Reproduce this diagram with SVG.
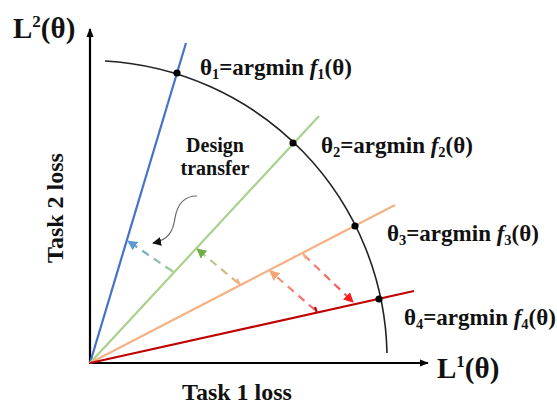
<svg xmlns="http://www.w3.org/2000/svg" width="557" height="405" viewBox="0 0 557 405">
<style>
text{font-family:'Liberation Serif','Times New Roman',serif;font-weight:bold;fill:#111}
.lbl{font-size:23px}
.sub{font-size:14.5px}
.dash{fill:none;stroke-width:2.2;stroke-dasharray:8 6}
</style>
<defs>
<marker id="ah" viewBox="0 0 10 10" refX="9" refY="5" markerWidth="9" markerHeight="9" markerUnits="userSpaceOnUse" orient="auto"><path d="M0,0 L10,5 L0,10 Z" fill="#111"/></marker>
<marker id="mb" viewBox="0 0 10 10" refX="9" refY="5" markerWidth="10" markerHeight="10" markerUnits="userSpaceOnUse" orient="auto"><path d="M0,0 L10,5 L0,10 Z" fill="#5B9BD5"/></marker>
<marker id="mg" viewBox="0 0 10 10" refX="9" refY="5" markerWidth="10" markerHeight="10" markerUnits="userSpaceOnUse" orient="auto"><path d="M0,0 L10,5 L0,10 Z" fill="#70AD47"/></marker>
<marker id="mo" viewBox="0 0 10 10" refX="9" refY="5" markerWidth="10" markerHeight="10" markerUnits="userSpaceOnUse" orient="auto"><path d="M0,0 L10,5 L0,10 Z" fill="#F4A57A"/></marker>
<marker id="mr" viewBox="0 0 10 10" refX="9" refY="5" markerWidth="10" markerHeight="10" markerUnits="userSpaceOnUse" orient="auto"><path d="M0,0 L10,5 L0,10 Z" fill="#FF1A1A"/></marker>
<marker id="ax" viewBox="0 0 10 10" refX="9" refY="5" markerWidth="9" markerHeight="9" markerUnits="userSpaceOnUse" orient="auto"><path d="M0,1 L10,5 L0,9 Z" fill="#000"/></marker>
<linearGradient id="g1" gradientUnits="userSpaceOnUse" x1="174" y1="273" x2="127" y2="240"><stop offset="0" stop-color="#A9D18E"/><stop offset="1" stop-color="#5B9BD5"/></linearGradient>
<linearGradient id="g2" gradientUnits="userSpaceOnUse" x1="240" y1="285" x2="196" y2="248"><stop offset="0" stop-color="#E0B080"/><stop offset="1" stop-color="#A9D18E"/></linearGradient>
<linearGradient id="g3" gradientUnits="userSpaceOnUse" x1="317" y1="312" x2="269" y2="270"><stop offset="0" stop-color="#F06060"/><stop offset="1" stop-color="#F4A57A"/></linearGradient>
<linearGradient id="g4" gradientUnits="userSpaceOnUse" x1="303" y1="253" x2="354" y2="303"><stop offset="0" stop-color="#F4907A"/><stop offset="1" stop-color="#F04848"/></linearGradient>
</defs>

<g id="axes" fill="none" stroke="#000">
<line x1="90" y1="364" x2="90" y2="29" stroke-width="2.2" marker-end="url(#ax)"/>
<line x1="89" y1="363" x2="428" y2="363" stroke-width="2.2" marker-end="url(#ax)"/>
</g>

<g id="pareto-front">
<path d="M105,61 A299,299 0 0 1 387,353" fill="none" stroke="#222" stroke-width="1.6"/>
</g>

<g id="rays" stroke-width="2.2">
<line id="ray1" x1="90" y1="363" x2="186" y2="43" stroke="#4472C4"/>
<line id="ray2" x1="90" y1="363" x2="319" y2="116" stroke="#A9D18E"/>
<line id="ray3" x1="90" y1="363" x2="395" y2="205" stroke="#F4B183"/>
<line id="ray4" x1="90" y1="363" x2="414" y2="291" stroke="#C00000"/>
</g>

<g id="connectors">
<line class="dash" x1="172" y1="271" x2="128" y2="241" stroke="url(#g1)" marker-end="url(#mb)"/>
<line x1="174" y1="273" x2="170" y2="269" stroke="#A9D18E" stroke-width="2.2"/>
<line class="dash" x1="238" y1="283" x2="197" y2="249" stroke="url(#g2)" marker-end="url(#mg)"/>
<line x1="240" y1="285" x2="237" y2="279" stroke="#F4B183" stroke-width="2.2"/>
<line class="dash" x1="315" y1="310" x2="270" y2="271" stroke="url(#g3)" marker-end="url(#mo)"/>
<line x1="317" y1="313" x2="315" y2="307" stroke="#C00000" stroke-width="2.2"/>
<line class="dash" x1="304" y1="255" x2="353" y2="302" stroke="url(#g4)" marker-end="url(#mr)"/>
<line x1="303" y1="253" x2="306" y2="259" stroke="#F4B183" stroke-width="2.2"/>
<path d="M197,196 C183,196 177,206 175,218 C173,232 168,240 153,243" fill="none" stroke="#666" stroke-width="1.2" marker-end="url(#ah)"/>
</g>

<g id="optima" fill="#000">
<circle cx="177" cy="73" r="3.6"/>
<circle cx="293" cy="143" r="3.6"/>
<circle cx="355" cy="226" r="3.6"/>
<circle cx="379" cy="299" r="3.6"/>
</g>

<g id="labels">
<text x="13" y="38" font-size="29">L<tspan font-size="17" dy="-11">2</tspan><tspan dy="11">(θ)</tspan></text>
<text x="437" y="378" font-size="29">L<tspan font-size="17" dy="-11">1</tspan><tspan dy="11">(θ)</tspan></text>
<text font-size="24" transform="translate(63,208) rotate(-90)" text-anchor="middle">Task 2 loss</text>
<text font-size="24" x="237" y="400" text-anchor="middle">Task 1 loss</text>
<text font-size="20" x="215" y="152" text-anchor="middle">Design</text>
<text font-size="20" x="215" y="175" text-anchor="middle">transfer</text>
</g>

<g id="theta1"><text class="lbl" x="200" y="75">θ<tspan class="sub" dy="4">1</tspan><tspan dy="-4">=argmin </tspan><tspan font-style="italic">f</tspan><tspan class="sub" dy="4">1</tspan><tspan dy="-4">(θ)</tspan></text></g>
<g id="theta2"><text class="lbl" x="321" y="153">θ<tspan class="sub" dy="4">2</tspan><tspan dy="-4">=argmin </tspan><tspan font-style="italic">f</tspan><tspan class="sub" dy="4">2</tspan><tspan dy="-4">(θ)</tspan></text></g>
<g id="theta3"><text class="lbl" x="387" y="241">θ<tspan class="sub" dy="4">3</tspan><tspan dy="-4">=argmin </tspan><tspan font-style="italic">f</tspan><tspan class="sub" dy="4">3</tspan><tspan dy="-4">(θ)</tspan></text></g>
<g id="theta4"><text class="lbl" x="404" y="325">θ<tspan class="sub" dy="4">4</tspan><tspan dy="-4">=argmin </tspan><tspan font-style="italic">f</tspan><tspan class="sub" dy="4">4</tspan><tspan dy="-4">(θ)</tspan></text></g>
</svg>
